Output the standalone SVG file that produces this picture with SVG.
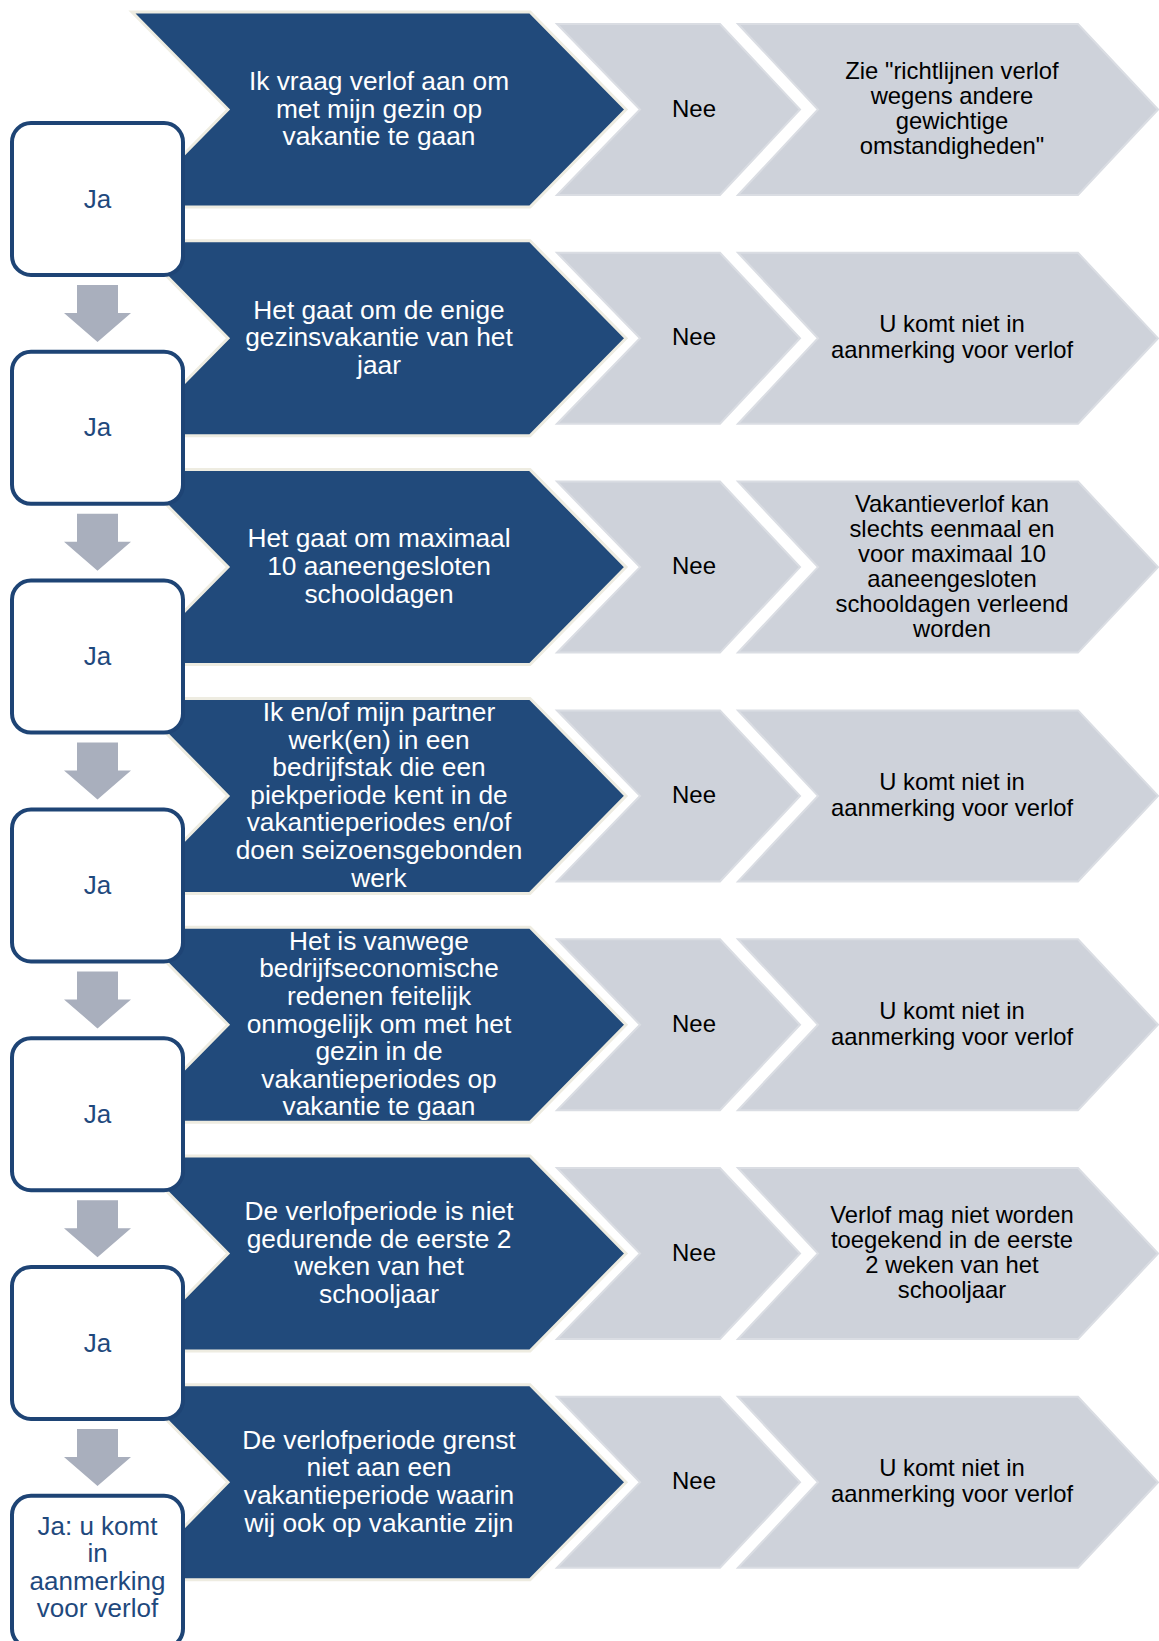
<svg xmlns="http://www.w3.org/2000/svg" xmlns:xlink="http://www.w3.org/1999/xlink" width="1159" height="1641" viewBox="0 0 1159 1641">
<style>
.blue{fill:#214A7B;stroke:#EEECE1;stroke-width:3;stroke-linejoin:miter}
.grey{fill:#CED2DA;stroke:#DADDE3;stroke-width:2}
.box{fill:#FFFFFF;stroke:#1E4475;stroke-width:4}
.arrow{fill:#A9AFBD}
.tb{font-family:"Liberation Sans",Arial,sans-serif;font-size:26.3px;fill:#FFFFFF;text-anchor:middle}
.tg{font-family:"Liberation Sans",Arial,sans-serif;font-size:23.8px;fill:#000000;text-anchor:middle}
.tn{font-family:"Liberation Sans",Arial,sans-serif;font-size:24px;fill:#000000;text-anchor:middle}
.tj{font-family:"Liberation Sans",Arial,sans-serif;font-size:26px;fill:#1F497D;text-anchor:middle}
</style>
<defs>
<polygon id="blueShape" points="132,12 530,12 626,109.5 530,207 132,207 228,109.5"/>
<polygon id="neeShape" points="557,24 720,24 800,109.5 720,195 557,195 640,109.5"/>
<polygon id="resShape" points="738,24 1078,24 1158,109.5 1078,195 738,195 818,109.5"/>
<rect id="boxShape" x="12" y="123" width="171" height="152" rx="19" ry="19"/>
<polygon id="arrowShape" points="77,285 118,285 118,313 131,313 97.5,342 64,313 77,313"/>
</defs>
<rect x="0" y="0" width="1159" height="1641" fill="#FFFFFF"/>

<!-- Row 1 -->
<g id="row1" transform="translate(0,0)">
<g id="res1"><use xlink:href="#resShape" class="grey"/>
<text class="tg"><tspan x="952" y="79">Zie "richtlijnen verlof</tspan><tspan x="952" y="104">wegens andere</tspan><tspan x="952" y="129">gewichtige</tspan><tspan x="952" y="154">omstandigheden"</tspan></text></g>
<g id="nee1"><use xlink:href="#neeShape" class="grey"/><text class="tn" x="694" y="116.5">Nee</text></g>
<g id="q1"><use xlink:href="#blueShape" class="blue"/>
<text class="tb"><tspan x="379" y="89.9">Ik vraag verlof aan om</tspan><tspan x="379" y="117.5">met mijn gezin op</tspan><tspan x="379" y="145.1">vakantie te gaan</tspan></text></g>
</g>

<!-- Row 2 -->
<g id="row2" transform="translate(0,228.8)">
<g id="res2"><use xlink:href="#resShape" class="grey"/>
<text class="tg"><tspan x="952" y="103.5">U komt niet in</tspan><tspan x="952" y="129.5">aanmerking voor verlof</tspan></text></g>
<g id="nee2"><use xlink:href="#neeShape" class="grey"/><text class="tn" x="694" y="116.5">Nee</text></g>
<g id="q2"><use xlink:href="#blueShape" class="blue"/>
<text class="tb"><tspan x="379" y="89.9">Het gaat om de enige</tspan><tspan x="379" y="117.5">gezinsvakantie van het</tspan><tspan x="379" y="145.1">jaar</tspan></text></g>
</g>

<!-- Row 3 -->
<g id="row3" transform="translate(0,457.6)">
<g id="res3"><use xlink:href="#resShape" class="grey"/>
<text class="tg"><tspan x="952" y="54">Vakantieverlof kan</tspan><tspan x="952" y="79">slechts eenmaal en</tspan><tspan x="952" y="104">voor maximaal 10</tspan><tspan x="952" y="129">aaneengesloten</tspan><tspan x="952" y="154">schooldagen verleend</tspan><tspan x="952" y="179">worden</tspan></text></g>
<g id="nee3"><use xlink:href="#neeShape" class="grey"/><text class="tn" x="694" y="116.5">Nee</text></g>
<g id="q3"><use xlink:href="#blueShape" class="blue"/>
<text class="tb"><tspan x="379" y="89.9">Het gaat om maximaal</tspan><tspan x="379" y="117.5">10 aaneengesloten</tspan><tspan x="379" y="145.1">schooldagen</tspan></text></g>
</g>

<!-- Row 4 -->
<g id="row4" transform="translate(0,686.4)">
<g id="res4"><use xlink:href="#resShape" class="grey"/>
<text class="tg"><tspan x="952" y="103.5">U komt niet in</tspan><tspan x="952" y="129.5">aanmerking voor verlof</tspan></text></g>
<g id="nee4"><use xlink:href="#neeShape" class="grey"/><text class="tn" x="694" y="116.5">Nee</text></g>
<g id="q4"><use xlink:href="#blueShape" class="blue"/>
<text class="tb"><tspan x="379" y="34.7">Ik en/of mijn partner</tspan><tspan x="379" y="62.3">werk(en) in een</tspan><tspan x="379" y="89.9">bedrijfstak die een</tspan><tspan x="379" y="117.5">piekperiode kent in de</tspan><tspan x="379" y="145.1">vakantieperiodes en/of</tspan><tspan x="379" y="172.7">doen seizoensgebonden</tspan><tspan x="379" y="200.3">werk</tspan></text></g>
</g>

<!-- Row 5 -->
<g id="row5" transform="translate(0,915.2)">
<g id="res5"><use xlink:href="#resShape" class="grey"/>
<text class="tg"><tspan x="952" y="103.5">U komt niet in</tspan><tspan x="952" y="129.5">aanmerking voor verlof</tspan></text></g>
<g id="nee5"><use xlink:href="#neeShape" class="grey"/><text class="tn" x="694" y="116.5">Nee</text></g>
<g id="q5"><use xlink:href="#blueShape" class="blue"/>
<text class="tb"><tspan x="379" y="34.7">Het is vanwege</tspan><tspan x="379" y="62.3">bedrijfseconomische</tspan><tspan x="379" y="89.9">redenen feitelijk</tspan><tspan x="379" y="117.5">onmogelijk om met het</tspan><tspan x="379" y="145.1">gezin in de</tspan><tspan x="379" y="172.7">vakantieperiodes op</tspan><tspan x="379" y="200.3">vakantie te gaan</tspan></text></g>
</g>

<!-- Row 6 -->
<g id="row6" transform="translate(0,1144)">
<g id="res6"><use xlink:href="#resShape" class="grey"/>
<text class="tg"><tspan x="952" y="79">Verlof mag niet worden</tspan><tspan x="952" y="104">toegekend in de eerste</tspan><tspan x="952" y="129">2 weken van het</tspan><tspan x="952" y="154">schooljaar</tspan></text></g>
<g id="nee6"><use xlink:href="#neeShape" class="grey"/><text class="tn" x="694" y="116.5">Nee</text></g>
<g id="q6"><use xlink:href="#blueShape" class="blue"/>
<text class="tb"><tspan x="379" y="76.1">De verlofperiode is niet</tspan><tspan x="379" y="103.7">gedurende de eerste 2</tspan><tspan x="379" y="131.3">weken van het</tspan><tspan x="379" y="158.9">schooljaar</tspan></text></g>
</g>

<!-- Row 7 -->
<g id="row7" transform="translate(0,1372.8)">
<g id="res7"><use xlink:href="#resShape" class="grey"/>
<text class="tg"><tspan x="952" y="103.5">U komt niet in</tspan><tspan x="952" y="129.5">aanmerking voor verlof</tspan></text></g>
<g id="nee7"><use xlink:href="#neeShape" class="grey"/><text class="tn" x="694" y="116.5">Nee</text></g>
<g id="q7"><use xlink:href="#blueShape" class="blue"/>
<text class="tb"><tspan x="379" y="76.1">De verlofperiode grenst</tspan><tspan x="379" y="103.7">niet aan een</tspan><tspan x="379" y="131.3">vakantieperiode waarin</tspan><tspan x="379" y="158.9">wij ook op vakantie zijn</tspan></text></g>
</g>

<!-- Ja boxes -->
<g id="ja1" transform="translate(0,0)"><use xlink:href="#boxShape" class="box"/><text class="tj" x="97.5" y="207.5">Ja</text></g>
<g id="ja2" transform="translate(0,228.8)"><use xlink:href="#boxShape" class="box"/><text class="tj" x="97.5" y="207.5">Ja</text></g>
<g id="ja3" transform="translate(0,457.6)"><use xlink:href="#boxShape" class="box"/><text class="tj" x="97.5" y="207.5">Ja</text></g>
<g id="ja4" transform="translate(0,686.4)"><use xlink:href="#boxShape" class="box"/><text class="tj" x="97.5" y="207.5">Ja</text></g>
<g id="ja5" transform="translate(0,915.2)"><use xlink:href="#boxShape" class="box"/><text class="tj" x="97.5" y="207.5">Ja</text></g>
<g id="ja6" transform="translate(0,1144)"><use xlink:href="#boxShape" class="box"/><text class="tj" x="97.5" y="207.5">Ja</text></g>
<g id="ja7" transform="translate(0,1372.8)"><use xlink:href="#boxShape" class="box"/>
<text class="tj"><tspan x="97.5" y="162.2">Ja: u komt</tspan><tspan x="97.5" y="189.7">in</tspan><tspan x="97.5" y="217.2">aanmerking</tspan><tspan x="97.5" y="244.2">voor verlof</tspan></text></g>

<!-- Connectors -->
<g id="connectors">
<use xlink:href="#arrowShape" class="arrow" transform="translate(0,0)"/>
<use xlink:href="#arrowShape" class="arrow" transform="translate(0,228.8)"/>
<use xlink:href="#arrowShape" class="arrow" transform="translate(0,457.6)"/>
<use xlink:href="#arrowShape" class="arrow" transform="translate(0,686.4)"/>
<use xlink:href="#arrowShape" class="arrow" transform="translate(0,915.2)"/>
<use xlink:href="#arrowShape" class="arrow" transform="translate(0,1144)"/>
</g>
</svg>
